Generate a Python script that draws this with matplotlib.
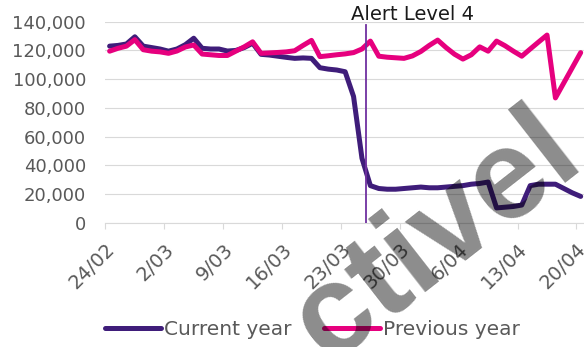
import matplotlib
matplotlib.use('Agg')
import matplotlib.pyplot as plt
import matplotlib.dates as mdates
import numpy as np
import pandas as pd

# daily totals, 24/02 to 20/04
dates = pd.date_range('2020-02-24', '2020-04-20', freq='D')

current_year = [123000, 123500, 124500, 129500, 123000, 122000, 121000, 119500,
                121000, 124000, 128500, 121500, 121000, 121000, 119600, 120000,
                122000, 125000, 117300, 116800, 116000, 115200, 114500, 114800,
                114500, 108000, 107000, 106400, 105200, 88000, 45000, 26000,
                24000, 23500, 23500, 24000, 24500, 25000, 24500, 24500,
                25000, 25500, 26000, 27000, 27500, 28500, 10500, 11000,
                11500, 12500, 26000, 27000, 27000, 27000, 24000, 21000, 18500]

previous_year = [119500, 121500, 123000, 127500, 120500, 119500, 119000, 118000,
                 119600, 122400, 123800, 117500, 117000, 116500, 116500, 119500,
                 122500, 126000, 118000, 118300, 118600, 119000, 119800, 123500,
                 127000, 115700, 116300, 117000, 117600, 118500, 121000, 126500,
                 116000, 115300, 114900, 114500, 116200, 119300, 123500, 127200,
                 122000, 117400, 114000, 117000, 122500, 119500, 126500, 123300,
                 119500, 116000, 121000, 125900, 130700, 87000, 97500, 108000, 118500]

tick_dates = ['2020-02-24', '2020-03-02', '2020-03-09', '2020-03-16', '2020-03-23',
              '2020-03-30', '2020-04-06', '2020-04-13', '2020-04-20']
tick_labels = ['24/02', '2/03', '9/03', '16/03', '23/03', '30/03', '6/04', '13/04', '20/04']
alert_date = '2020-03-26'

grey = '#595959'
grid_col = '#D9D9D9'

fig = plt.figure(figsize=(5.84, 3.47), dpi=100)
ax = fig.add_axes([0.1805, 0.3573, 0.821, 0.5802])

# each day's point sits in the middle of its slot
x = mdates.date2num(dates) + 0.5
x0 = mdates.date2num(pd.Timestamp(dates[0]))

ax.plot(x, current_year, color='#3F1D7A', lw=3.6, solid_capstyle='round',
        solid_joinstyle='round', label='Current year', zorder=3)
ax.plot(x, previous_year, color='#E6007E', lw=3.6, solid_capstyle='round',
        solid_joinstyle='round', label='Previous year', zorder=4)

xa = mdates.date2num(pd.Timestamp(alert_date))
ax.plot([xa, xa], [0, 138000], color='#7030A0', lw=1.3, zorder=5)
ax.annotate('Alert Level 4', xy=(xa, 1.0), xycoords=('data', 'axes fraction'),
            xytext=(46, 7), textcoords='offset pixels', ha='center', va='center',
            fontsize=14, color='#1a1a1a')

ax.set_xlim(x0, x0 + 57)
ax.set_ylim(0, 140000)
ax.set_yticks(np.arange(0, 140001, 20000))
ax.set_yticklabels([f'{v:,}' for v in range(0, 140001, 20000)])
ax.set_xticks([mdates.date2num(pd.Timestamp(d)) for d in tick_dates])
ax.set_xticklabels(tick_labels, rotation=45, ha='right', va='top',
                   rotation_mode='anchor')

ax.grid(axis='y', color=grid_col, lw=0.8)
ax.set_axisbelow(True)
for s in ['top', 'right', 'left']:
    ax.spines[s].set_visible(False)
ax.spines['bottom'].set_color(grid_col)
ax.spines['bottom'].set_linewidth(0.8)
ax.tick_params(axis='y', length=0, pad=14, labelsize=13, labelcolor=grey)
ax.tick_params(axis='x', length=4, width=0.8, color=grid_col, pad=8,
               labelsize=14, labelcolor=grey)

fig.legend(loc='center', bbox_to_anchor=(0.535, 0.05), ncol=2, frameon=False,
           fontsize=14.5, handlelength=2.8, handletextpad=0.15, columnspacing=1.6,
           labelcolor=grey)

# watermark across the lower right
fig.text(0.563, -0.049, 'ctivel', rotation=38, rotation_mode='anchor',
         ha='left', va='baseline', fontsize=92, fontweight='bold',
         family='Liberation Sans', color='black', alpha=0.45, zorder=10)

fig.savefig('out.png', dpi=100)
